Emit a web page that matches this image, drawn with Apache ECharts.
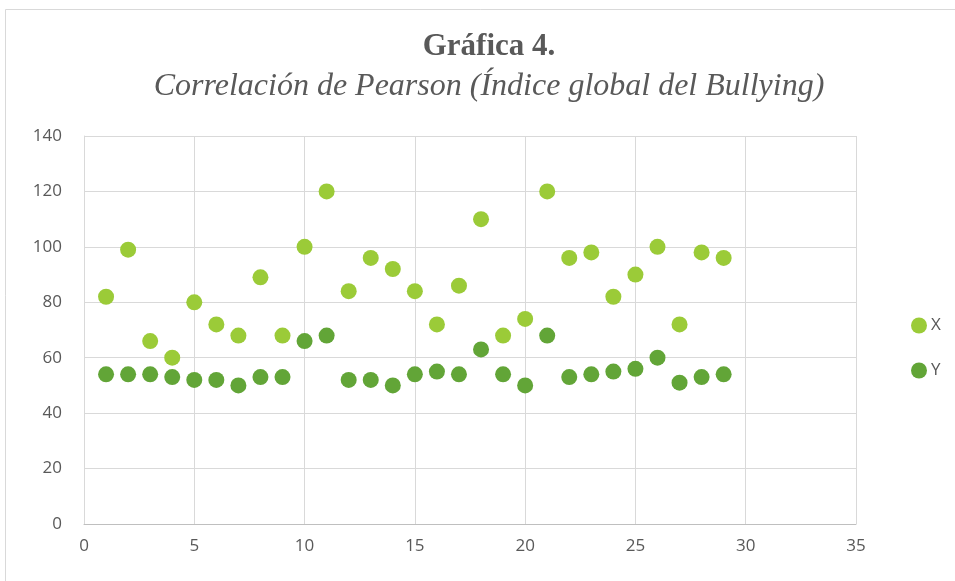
<!DOCTYPE html>
<html>
<head>
<meta charset="utf-8">
<script src="https://cdn.jsdelivr.net/npm/echarts@6/dist/echarts.min.js"></script>
<style>html,body{margin:0;padding:0;background:#fff}#c{width:955px;height:581px}</style>
</head>
<body>
<div id="c"></div>
<script>
const titleText = "Gráfica 4.";
const subtitleText = "Correlación de Pearson (Índice global del Bullying)";
const seriesNames = ["X", "Y"];
const xCategories = [1,2,3,4,5,6,7,8,9,10,11,12,13,14,15,16,17,18,19,20,21,22,23,24,25,26,27,28,29];
const xValues = [82,99,66,60,80,72,68,89,68,100,120,84,96,92,84,72,86,110,68,74,120,96,98,82,90,100,72,98,96];
const yValues = [54,54,54,53,52,52,50,53,53,66,68,52,52,50,54,55,54,63,54,50,68,53,54,55,56,60,51,53,54];

const chart = echarts.init(document.getElementById('c'));
const lblFont = "'Open Sans', 'Liberation Sans', sans-serif";
chart.setOption({
  animation: false,
  backgroundColor: '#fff',
  graphic: [{
    type: 'rect', shape: {x: 5.5, y: 9.5, width: 1000, height: 700},
    style: {fill: 'none', stroke: '#d9d9d9', lineWidth: 1}, silent: true, z: -1
  }, {
    type: 'text', x: 489, y: 62,
    style: {text: titleText, textAlign: 'center', textVerticalAlign: 'bottom',
      font: "bold 31px 'Liberation Serif', 'DejaVu Serif', serif", fill: '#595959'}
  }, {
    type: 'text', x: 489, y: 103,
    style: {text: subtitleText, textAlign: 'center', textVerticalAlign: 'bottom',
      font: "italic 32px 'Liberation Serif', 'DejaVu Serif', serif", fill: '#595959'}
  }],
  grid: {left: 84, right: 99, top: 136, bottom: 57},
  legend: {
    orient: 'vertical', left: 906, top: 312, itemGap: 28,
    itemWidth: 16, itemHeight: 16, icon: 'circle',
    textStyle: {color: '#595959', fontSize: 17, fontFamily: lblFont, padding: [0, 0, 0, -1]},
    data: seriesNames
  },
  xAxis: {
    type: 'value', min: 0, max: 35, interval: 5,
    axisLine: {show: true, lineStyle: {color: '#bfbfbf'}},
    axisTick: {show: false},
    splitLine: {show: true, lineStyle: {color: '#d9d9d9', width: 1}},
    axisLabel: {color: '#595959', fontSize: 17, fontFamily: lblFont, margin: 14}
  },
  yAxis: {
    type: 'value', min: 0, max: 140, interval: 20,
    axisLine: {show: true, lineStyle: {color: '#d9d9d9'}},
    axisTick: {show: false},
    splitLine: {show: true, lineStyle: {color: '#d9d9d9', width: 1}},
    axisLabel: {color: '#595959', fontSize: 17, fontFamily: lblFont, margin: 22}
  },
  series: [{
    name: seriesNames[0], type: 'scatter', symbolSize: 16,
    itemStyle: {color: '#9BCB38', opacity: 1},
    data: xCategories.map((c, i) => [c, xValues[i]])
  }, {
    name: seriesNames[1], type: 'scatter', symbolSize: 16,
    itemStyle: {color: '#62A537', opacity: 1},
    data: xCategories.map((c, i) => [c, yValues[i]])
  }]
});
</script>
</body>
</html>
